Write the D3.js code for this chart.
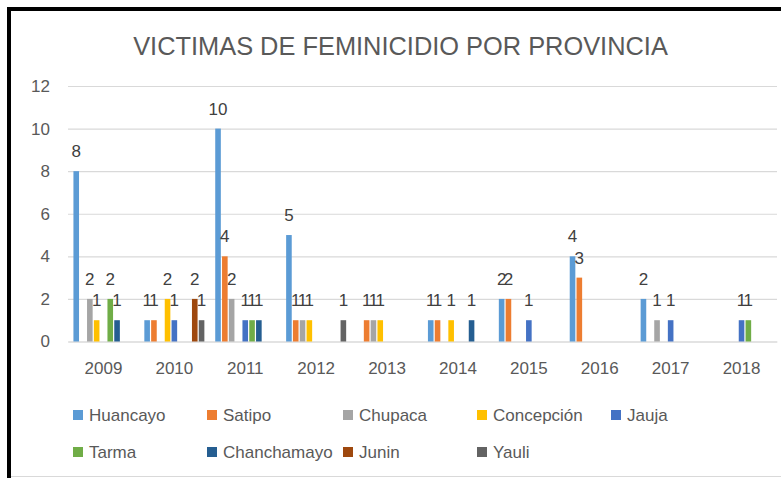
<!DOCTYPE html>
<html><head><meta charset="utf-8">
<script src="https://cdn.jsdelivr.net/npm/d3@7"></script>
<style>
html,body{margin:0;padding:0;background:#fff;}
svg{display:block;font-family:"Liberation Sans",Arial,sans-serif;}
</style></head>
<body>
<svg id="c" width="781" height="478"></svg>
<script>
const years = ["2009","2010","2011","2012","2013","2014","2015","2016","2017","2018"];
const seriesNames = ["Huancayo","Satipo","Chupaca","Concepción","Jauja","Tarma","Chanchamayo","Junin","Yauli"];
const seriesColors = ["#5B9BD5","#ED7D31","#A5A5A5","#FFC000","#4472C4","#70AD47","#255E91","#9E480E","#636363"];
const huancayo    = [8,1,10,5,null,1,2,4,2,null];
const satipo      = [null,1,4,1,1,1,2,3,null,null];
const chupaca     = [2,null,2,1,1,null,null,null,1,null];
const concepcion  = [1,2,null,1,1,1,null,null,null,null];
const jauja       = [null,1,1,null,null,null,1,null,1,1];
const tarma       = [2,null,1,null,null,null,null,null,null,1];
const chanchamayo = [1,null,1,null,null,1,null,null,null,null];
const junin       = [null,2,null,null,null,null,null,null,null,null];
const yauli       = [null,1,null,1,null,null,null,null,null,null];
const yTicks = [0,2,4,6,8,10,12];
const title = "VICTIMAS DE FEMINICIDIO POR PROVINCIA";

const seriesValues = [huancayo,satipo,chupaca,concepcion,jauja,tarma,chanchamayo,junin,yauli];

const svg = d3.select("#c");
const plot = {left:68, right:777, top:86, bottom:341.5};

const x0 = d3.scaleBand().domain(years).range([plot.left, plot.right]).padding(0);
const x1 = d3.scaleBand().domain(seriesNames).range([0, x0.bandwidth()]).paddingInner(0).paddingOuter(0.71);
const y = d3.scaleLinear().domain([0,12]).range([plot.bottom, plot.top]);
const color = d3.scaleOrdinal().domain(seriesNames).range(seriesColors);

// frame
svg.append("rect").attr("x",7).attr("y",7).attr("width",4).attr("height",471).attr("fill","#000");
svg.append("rect").attr("x",7).attr("y",7).attr("width",774).attr("height",4).attr("fill","#000");
svg.append("line").attr("x1",11).attr("x2",781).attr("y1",476.5).attr("y2",476.5).attr("stroke","#d9d9d9");

// title
svg.append("text").attr("x",400.5).attr("y",55).attr("text-anchor","middle")
  .attr("font-size",25.4).attr("fill","#595959").text(title);

// gridlines
const yAxis = d3.axisLeft(y).tickValues(yTicks).tickSize(-(plot.right-plot.left)).tickPadding(18);
const gy = svg.append("g").attr("transform",`translate(${plot.left},0)`).call(yAxis);
gy.select(".domain").remove();
gy.selectAll(".tick line").attr("stroke","#d9d9d9").attr("stroke-width",1.2);
gy.selectAll(".tick text").attr("fill","#595959").attr("font-size",17).attr("font-family","Liberation Sans, Arial, sans-serif");

// x axis
const xAxis = d3.axisBottom(x0).tickSize(0).tickPadding(20);
const gx = svg.append("g").attr("transform",`translate(0,${plot.bottom})`).call(xAxis);
gx.select(".domain").attr("stroke","#d9d9d9").attr("stroke-width",1.2);
gx.selectAll(".tick text").attr("fill","#595959").attr("font-size",17).attr("font-family","Liberation Sans, Arial, sans-serif");

// bars
const rows = [];
years.forEach((yr,i)=>{
  seriesNames.forEach((s,j)=>{
    const v = seriesValues[j][i];
    if(v!==null && v!==undefined) rows.push({year:yr, series:s, value:v});
  });
});
const bw = x1.bandwidth();
svg.append("g").selectAll("rect").data(rows).join("rect")
  .attr("x",d=>x0(d.year)+x1(d.series)+0.6)
  .attr("width",bw-1.2)
  .attr("y",d=>y(d.value))
  .attr("height",d=>y(0)-y(d.value))
  .attr("fill",d=>color(d.series));

svg.append("g").selectAll("text").data(rows).join("text")
  .attr("x",d=>x0(d.year)+x1(d.series)+bw/2)
  .attr("y",d=>y(d.value)-14)
  .attr("text-anchor","middle")
  .attr("font-size",17).attr("fill","#404040")
  .text(d=>d.value);

// legend
const legCols = [73,207,343,477,611];
const legRows = [410,447];
const leg = svg.append("g");
seriesNames.forEach((s,i)=>{
  const cx = legCols[i%5], cy = legRows[Math.floor(i/5)];
  leg.append("rect").attr("x",cx).attr("y",cy).attr("width",10).attr("height",10).attr("fill",color(s));
  leg.append("text").attr("x",cx+16).attr("y",cy+11).attr("font-size",17).attr("fill","#595959").text(s);
});
</script>
</body></html>
